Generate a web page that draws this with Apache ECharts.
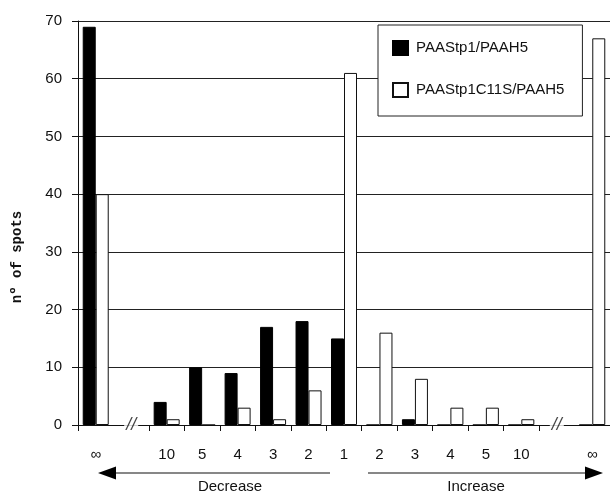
<!DOCTYPE html>
<html>
<head>
<meta charset="utf-8">
<script src="https://cdn.jsdelivr.net/npm/echarts@6/dist/echarts.min.js"></script>
<style>html,body{margin:0;padding:0;background:#fff}#c{width:610px;height:495px}</style>
</head>
<body>
<div id="c"></div>
<script>
var categories = ['dInf','gapL','d10','d5','d4','d3','d2','one','i2','i3','i4','i5','i10','gapR','iInf'];
var tickLabels = ['∞','','10','5','4','3','2','1','2','3','4','5','10','','∞'];
var seriesNames = ['PAAStp1/PAAH5','PAAStp1C11S/PAAH5'];
var valuesA = [69, null, 4, 10, 9, 17, 18, 15, 0, 1, 0, 0, 0, null, 0];
var valuesB = [40, null, 1, 0, 3, 1, 6, 61, 16, 8, 3, 3, 1, null, 67];
var breakMarks = [[1, 0], [13, 0]];
var yTicks = [0, 10, 20, 30, 40, 50, 60, 70];

var font = '"Liberation Sans", Arial, sans-serif';
var chart = echarts.init(document.getElementById('c'));
chart.setOption({
  animation: false,
  backgroundColor: '#fff',
  grid: { left: 78, top: 21, width: 534, bottom: 70, containLabel: false },
  legend: {
    data: seriesNames,
    icon: 'rect',
    orient: 'vertical',
    left: 378, top: 25,
    padding: [15, 18, 18, 14],
    itemWidth: 15, itemHeight: 14, itemGap: 26,
    borderColor: '#222', borderWidth: 1, backgroundColor: '#fff',
    textStyle: { fontFamily: font, fontSize: 15, color: '#111', padding: [0, 0, 0, 3] }
  },
  xAxis: {
    type: 'category',
    data: categories,
    boundaryGap: true,
    axisLine: { lineStyle: { color: '#111', width: 1 } },
    axisTick: { show: true, length: 6, lineStyle: { color: '#111' },
      interval: function (i) { return i !== 1 && i !== 14; } },
    axisLabel: { interval: 0, margin: 22, fontFamily: font, fontSize: 15, color: '#111',
      formatter: function (v, i) { return tickLabels[i]; } },
    splitLine: { show: false }
  },
  yAxis: {
    type: 'value',
    min: yTicks[0], max: yTicks[yTicks.length - 1], interval: 10,
    axisLine: { show: true, lineStyle: { color: '#111', width: 1 } },
    axisTick: { show: true, length: 6, lineStyle: { color: '#111' } },
    axisLabel: { margin: 16, fontFamily: font, fontSize: 15, color: '#111' },
    splitLine: { show: true, lineStyle: { color: '#222', width: 1 } }
  },
  series: [
    { name: seriesNames[0], type: 'bar', data: valuesA, barWidth: 13, barGap: '0%',
      itemStyle: { color: '#000', borderColor: '#000', borderWidth: 1 } },
    { name: seriesNames[1], type: 'bar', data: valuesB, barWidth: 13, barGap: '0%',
      itemStyle: { color: '#fff', borderColor: '#111', borderWidth: 1 } },
    { name: 'break', type: 'scatter', data: breakMarks, symbolSize: 1, silent: true,
      itemStyle: { color: 'rgba(0,0,0,0)' },
      label: { show: true, position: 'inside', formatter: '//', fontFamily: font,
        fontSize: 18, fontStyle: 'italic', color: '#111', backgroundColor: '#fff', padding: [0, 2] } }
  ],
  graphic: [
    { type: 'text', x: 17, y: 257, rotation: Math.PI / 2,
      style: { text: 'nº of spots', font: 'bold 14px "Liberation Mono", "Courier New", monospace',
        fill: '#111', textAlign: 'center', textVerticalAlign: 'middle' } },
    { type: 'line', shape: { x1: 112, y1: 473, x2: 330, y2: 473 }, style: { stroke: '#111', lineWidth: 1.2 } },
    { type: 'polygon', shape: { points: [[98, 473], [116, 466.5], [116, 479.5]] }, style: { fill: '#000' } },
    { type: 'text', x: 230, y: 487, style: { text: 'Decrease', font: '15px ' + font, fill: '#111',
        textAlign: 'center', textVerticalAlign: 'middle' } },
    { type: 'line', shape: { x1: 368, y1: 473, x2: 588, y2: 473 }, style: { stroke: '#111', lineWidth: 1.2 } },
    { type: 'polygon', shape: { points: [[603, 473], [585, 466.5], [585, 479.5]] }, style: { fill: '#000' } },
    { type: 'text', x: 476, y: 487, style: { text: 'Increase', font: '15px ' + font, fill: '#111',
        textAlign: 'center', textVerticalAlign: 'middle' } }
  ]
});
</script>
</body>
</html>
